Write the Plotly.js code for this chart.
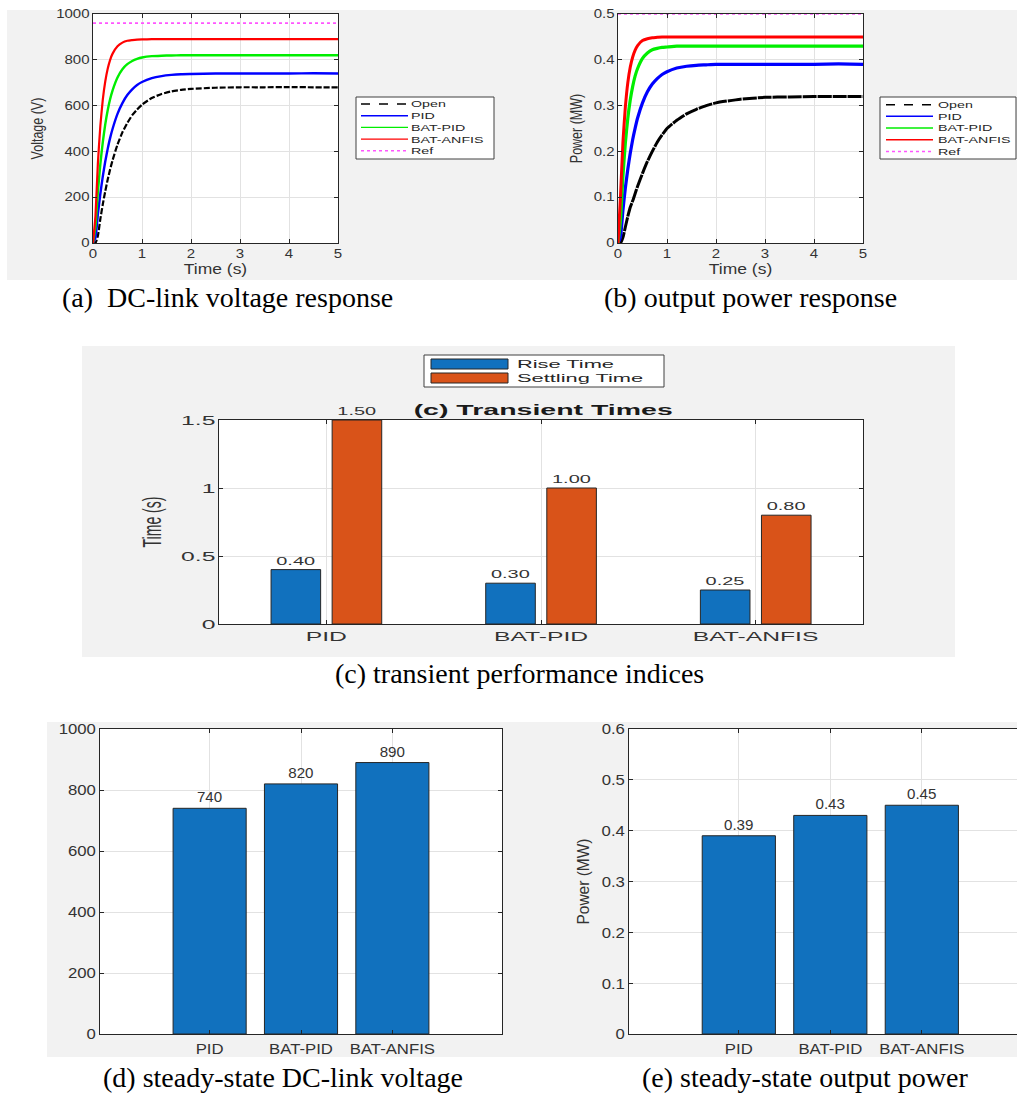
<!DOCTYPE html>
<html><head><meta charset="utf-8">
<script src="https://cdn.plot.ly/plotly-3.0.1.min.js"></script>
<style>html,body{margin:0;padding:0;background:#fff;}#chart{width:1017px;height:1093px;}</style>
</head><body><div id="chart"></div>
<script>
// ---------- data ----------
const seriesNames = ['Open', 'PID', 'BAT-PID', 'BAT-ANFIS', 'Ref'];
const timeS = [0,0.05,0.1,0.15,0.2,0.25,0.3,0.35,0.4,0.5,0.6,0.7,0.8,0.9,1.0,1.2,1.4,1.6,1.8,2.0,2.5,3.0,3.5,4.0,4.5,5.0];
const voltOpen     = [0,0,32,105,169,226,277,322,362,430,483,524,558,583,604,633,651,662,669,673,678,680,680,681,680,680];
const voltPID      = [0,23,126,215,291,356,411,459,499,564,611,646,671,690,703,720,729,734,737,738,740,740,740,740,741,740];
const voltBatPid   = [0,71,224,344,441,518,580,629,667,723,759,781,795,804,810,816,818,819,820,820,820,820,820,820,820,820];
const voltBatAnfis = [0,118,350,512,626,705,761,800,827,859,875,883,886,888,889,890,890,890,890,890,890,890,890,890,890,890];
const refTime = [0, 5];
const voltRef = [960, 960];
const powOpen     = [0,0,0.012,0.035,0.058,0.078,0.092,0.108,0.124,0.152,0.178,0.200,0.220,0.236,0.250,0.268,0.282,0.292,0.300,0.306,0.314,0.318,0.319,0.320,0.320,0.320];
const powPID      = [0,0.013,0.071,0.120,0.161,0.196,0.226,0.251,0.273,0.306,0.330,0.347,0.359,0.368,0.374,0.382,0.386,0.388,0.389,0.390,0.390,0.390,0.390,0.390,0.391,0.390];
const powBatPid   = [0,0.048,0.145,0.218,0.272,0.312,0.342,0.365,0.381,0.403,0.415,0.422,0.425,0.427,0.428,0.430,0.430,0.430,0.430,0.430,0.430,0.430,0.430,0.430,0.430,0.430];
const powBatAnfis = [0,0.100,0.219,0.297,0.350,0.384,0.406,0.421,0.431,0.442,0.446,0.448,0.449,0.450,0.450,0.450,0.450,0.450,0.450,0.450,0.450,0.450,0.450,0.450,0.450,0.450];
const powRef = [0.5, 0.5];

const controllers = ['PID', 'BAT-PID', 'BAT-ANFIS'];
const riseTime = [0.40, 0.30, 0.25];
const settlingTime = [1.50, 1.00, 0.80];
const ssVoltage = [740, 820, 890];
const ssPower = [0.39, 0.43, 0.45];

const yTicksVolt = [0, 200, 400, 600, 800, 1000];
const yTicksPow = [0, 0.1, 0.2, 0.3, 0.4, 0.5];
const yTicksTime = [0, 0.5, 1, 1.5];
const yTicksPow2 = [0, 0.1, 0.2, 0.3, 0.4, 0.5, 0.6];

// ---------- styling ----------
const W = 1017, H = 1093;
const px = x => x / W;
const py = y => 1 - y / H;
const SANS = 'Liberation Sans, Arial, sans-serif';
const SERIF = 'Liberation Serif, Times New Roman, serif';
const TXT = '#333333';
const lineStyles = [
  {color: '#000000', dash: '6px,2px', dash2: '14px,1px', width: 2.2},
  {color: '#0000ff', dash: 'solid', dash2: 'solid', width: 2.4},
  {color: '#00ee00', dash: 'solid', dash2: 'solid', width: 2.4},
  {color: '#ff0000', dash: 'solid', dash2: 'solid', width: 2.2},
  {color: '#ff55ff', dash: 'dot', dash2: 'dot', width: 1.6}
];
const legendSampleDash = ['dash', 'solid', 'solid', 'solid', 'dot'];
const BLUE = '#1171BE', ORANGE = '#D95319';

function ax(extra) {
  return Object.assign({
    showline: true, linecolor: '#262626', linewidth: 1, mirror: 'allticks',
    ticks: 'inside', ticklen: 4, tickcolor: '#262626', tickwidth: 1,
    showgrid: true, gridcolor: '#e2e2e2', gridwidth: 1, zeroline: false,
    fixedrange: true, tickfont: {family: SANS, size: 12, color: TXT}
  }, extra);
}

// ---------- traces ----------
const traces = [];
const voltSets = [voltOpen, voltPID, voltBatPid, voltBatAnfis];
const powSets = [powOpen, powPID, powBatPid, powBatAnfis];
voltSets.forEach((v, i) => traces.push({
  type: 'scatter', mode: 'lines', x: timeS, y: v, name: seriesNames[i], xaxis: 'x', yaxis: 'y',
  line: {color: lineStyles[i].color, dash: lineStyles[i].dash, width: lineStyles[i].width, shape: 'spline', smoothing: 0.5},
  showlegend: false
}));
traces.push({type: 'scatter', mode: 'lines', x: refTime, y: voltRef, name: seriesNames[4], xaxis: 'x', yaxis: 'y',
  line: {color: lineStyles[4].color, dash: 'dot', width: lineStyles[4].width}, showlegend: false});
powSets.forEach((v, i) => traces.push({
  type: 'scatter', mode: 'lines', x: timeS, y: v, name: seriesNames[i], xaxis: 'x2', yaxis: 'y2',
  line: {color: lineStyles[i].color, dash: lineStyles[i].dash2, width: lineStyles[i].width + 0.8, shape: 'spline', smoothing: 0.5},
  showlegend: false
}));
traces.push({type: 'scatter', mode: 'lines', x: refTime, y: powRef, name: seriesNames[4], xaxis: 'x2', yaxis: 'y2',
  cliponaxis: false, line: {color: lineStyles[4].color, dash: 'dot', width: lineStyles[4].width}, showlegend: false});

const barLine = {color: '#262626', width: 1};
traces.push({type: 'bar', x: controllers, y: riseTime, name: 'Rise Time', xaxis: 'x3', yaxis: 'y3',
  width: 0.231, offset: -0.2575, marker: {color: BLUE, line: barLine},
  texttemplate: '%{y:.2f}', textposition: 'outside', cliponaxis: false,
  textfont: {family: SANS, size: 10.5, color: TXT}, showlegend: false});
traces.push({type: 'bar', x: controllers, y: settlingTime, name: 'Settling Time', xaxis: 'x3', yaxis: 'y3',
  width: 0.231, offset: 0.027, marker: {color: ORANGE, line: barLine},
  texttemplate: '%{y:.2f}', textposition: 'outside', cliponaxis: false,
  textfont: {family: SANS, size: 10.5, color: TXT}, showlegend: false});
traces.push({type: 'bar', x: controllers, y: ssVoltage, name: 'Voltage', xaxis: 'x4', yaxis: 'y4',
  width: 0.8, marker: {color: BLUE, line: barLine},
  texttemplate: '%{y}', textposition: 'outside', cliponaxis: false,
  textfont: {family: SANS, size: 14, color: TXT}, showlegend: false});
traces.push({type: 'bar', x: controllers, y: ssPower, name: 'Power', xaxis: 'x5', yaxis: 'y5',
  width: 0.8, marker: {color: BLUE, line: barLine},
  texttemplate: '%{y:.2f}', textposition: 'outside', cliponaxis: false,
  textfont: {family: SANS, size: 14, color: TXT}, showlegend: false});

// ---------- shapes (panel backgrounds & legends) ----------
const shapes = [
  {type: 'rect', xref: 'paper', yref: 'paper', x0: px(7), x1: 1, y0: py(280), y1: py(10), fillcolor: '#f2f2f2', line: {width: 0}, layer: 'below'},
  {type: 'rect', xref: 'paper', yref: 'paper', x0: px(82), x1: px(955), y0: py(657), y1: py(346), fillcolor: '#f2f2f2', line: {width: 0}, layer: 'below'},
  {type: 'rect', xref: 'paper', yref: 'paper', x0: px(47), x1: 1, y0: py(1057), y1: py(722), fillcolor: '#f2f2f2', line: {width: 0}, layer: 'below'}
];
['', '2', '3', '4', '5'].forEach(s => shapes.push({type: 'rect', xref: 'x' + s + ' domain', yref: 'y' + s + ' domain',
  x0: 0, x1: 1, y0: 0, y1: 1, fillcolor: '#ffffff', line: {width: 0}, layer: 'below'}));

const annotations = [];
function lineLegend(box, sx0, sx1, tx, rows) {
  shapes.push({type: 'rect', xref: 'paper', yref: 'paper', x0: px(box[0]), x1: px(box[1]), y0: py(box[3]), y1: py(box[2]),
    fillcolor: '#ffffff', line: {color: '#404040', width: 1}, layer: 'above'});
  seriesNames.forEach((n, i) => {
    shapes.push({type: 'line', xref: 'paper', yref: 'paper', x0: px(sx0), x1: px(sx1), y0: py(rows[i]), y1: py(rows[i]),
      line: {color: lineStyles[i].color, dash: legendSampleDash[i], width: i === 4 ? 1.6 : 1.4}, layer: 'above'});
    annotations.push({xref: 'paper', yref: 'paper', x: px(tx), y: py(rows[i]), xanchor: 'left', yanchor: 'middle', align: 'left',
      text: n, showarrow: false, borderpad: 0, font: {family: SANS, size: 9.5, color: '#262626'}});
  });
}
lineLegend([356, 494, 97, 159], 361, 408, 410, [104, 115.7, 127.4, 139.1, 150.8]);
lineLegend([880, 1016, 97, 159], 886, 933, 937, [104.7, 116.3, 128, 139.8, 151.5]);

// legend for (c)
shapes.push({type: 'rect', xref: 'paper', yref: 'paper', x0: px(424), x1: px(664), y0: py(387), y1: py(355),
  fillcolor: '#ffffff', line: {color: '#404040', width: 1}, layer: 'above'});
[['Rise Time', BLUE, 364], ['Settling Time', ORANGE, 378]].forEach(e => {
  shapes.push({type: 'rect', xref: 'paper', yref: 'paper', x0: px(431), x1: px(508), y0: py(e[2] + 5), y1: py(e[2] - 5),
    fillcolor: e[1], line: {color: '#262626', width: 1}, layer: 'above'});
  annotations.push({xref: 'paper', yref: 'paper', x: px(516), y: py(e[2]), xanchor: 'left', yanchor: 'middle', align: 'left',
    text: e[0], showarrow: false, borderpad: 0, font: {family: SANS, size: 11.5, color: '#262626'}});
});

// titles & captions
annotations.push({xref: 'paper', yref: 'paper', x: px(543), y: py(409), xanchor: 'center', yanchor: 'middle',
  text: '<b>(c) Transient Times</b>', showarrow: false, font: {family: SANS, size: 15, color: '#1a1a1a'}});
[['(a)\u00a0 DC-link voltage response', 227, 298], ['(b) output power response', 750, 298],
 ['(c) transient performance indices', 519, 673], ['(d) steady-state DC-link voltage', 283, 1077],
 ['(e) steady-state output power', 805, 1077]].forEach(c => annotations.push({
  xref: 'paper', yref: 'paper', x: px(c[1]), y: py(c[2]), xanchor: 'center', yanchor: 'middle',
  text: c[0], showarrow: false, font: {family: SERIF, size: 28, color: '#000000'}}));

// ---------- layout ----------
const layout = {
  width: W, height: H, margin: {l: 0, r: 0, t: 0, b: 0},
  paper_bgcolor: '#ffffff', plot_bgcolor: '#ffffff', showlegend: false, hovermode: false,
  xaxis: ax({domain: [px(93), px(338)], anchor: 'y', range: [0, 5], dtick: 1,
    title: {text: 'Time (s)', font: {family: SANS, size: 14, color: TXT}, standoff: 3}}),
  yaxis: ax({domain: [py(243), py(14)], anchor: 'x', range: [0, 1000], tickvals: yTicksVolt,
    title: {text: 'Voltage (V)', font: {family: SANS, size: 12.5, color: TXT}, standoff: 17}}),
  xaxis2: ax({domain: [px(618), px(863)], anchor: 'y2', range: [0, 5], dtick: 1,
    title: {text: 'Time (s)', font: {family: SANS, size: 14, color: TXT}, standoff: 3}}),
  yaxis2: ax({domain: [py(243), py(14)], anchor: 'x2', range: [0, 0.5], tickvals: yTicksPow,
    title: {text: 'Power (MW)', font: {family: SANS, size: 12.5, color: TXT}, standoff: 13}}),
  xaxis3: ax({domain: [px(219), px(863)], anchor: 'y3', type: 'category', range: [-0.5, 2.5],
    tickfont: {family: SANS, size: 13, color: TXT}}),
  yaxis3: ax({domain: [py(624), py(420)], anchor: 'x3', range: [0, 1.5], tickvals: yTicksTime,
    tickfont: {family: SANS, size: 13, color: TXT},
    title: {text: 'Time (s)', font: {family: SANS, size: 14, color: TXT}, standoff: 36}}),
  xaxis4: ax({domain: [px(100), px(502)], anchor: 'y4', type: 'category', range: [-1.2, 3.2],
    tickfont: {family: SANS, size: 15.5, color: TXT}}),
  yaxis4: ax({domain: [py(1034), py(729)], anchor: 'x4', range: [0, 1000], tickvals: yTicksVolt,
    tickfont: {family: SANS, size: 15.5, color: TXT}}),
  xaxis5: ax({domain: [px(629), 1], anchor: 'y5', type: 'category', range: [-1.2, 3.04],
    tickfont: {family: SANS, size: 15.5, color: TXT}}),
  yaxis5: ax({domain: [py(1034), py(729)], anchor: 'x5', range: [0, 0.6], tickvals: yTicksPow2, mirror: false,
    tickfont: {family: SANS, size: 15.5, color: TXT},
    title: {text: 'Power (MW)', font: {family: SANS, size: 15.5, color: TXT}, standoff: 10}}),
  shapes: shapes, annotations: annotations
};

// horizontal stretch of the source panels' lettering
function stretchAll() {
  const gd = document.getElementById('chart');
  const root = gd.getBoundingClientRect();
  gd.querySelectorAll('svg text').forEach(el => {
    const r = el.getBoundingClientRect();
    if (!r.width) return;
    const cy = r.top - root.top + r.height / 2;
    let f = 1;
    if (cy < 284) f = (cy > 95 && cy < 160 && seriesNames.indexOf(el.textContent) >= 0 && r.left - root.left > 340) ? 1.5 : 1.25;
    else if (cy > 340 && cy < 662) f = 1.9;
    else if (cy > 700 && cy < 1062) f = 1.08;
    if (f === 1) return;
    const orig = el.getAttribute('transform') || '';
    const anchor = el.getAttribute('text-anchor') || getComputedStyle(el).textAnchor || 'middle';
    let axp = r.left + r.width / 2;
    if (!/rotate/.test(orig)) { if (anchor === 'start') axp = r.left; else if (anchor === 'end') axp = r.right; }
    const m = el.parentNode.getScreenCTM();
    const lx = (axp - m.e) / m.a;
    el.setAttribute('transform', 'translate(' + lx + ',0) scale(' + f + ',1) translate(' + (-lx) + ',0) ' + orig);
  });
}

Plotly.newPlot('chart', traces, layout, {staticPlot: true, displayModeBar: false}).then(stretchAll);
</script></body></html>
